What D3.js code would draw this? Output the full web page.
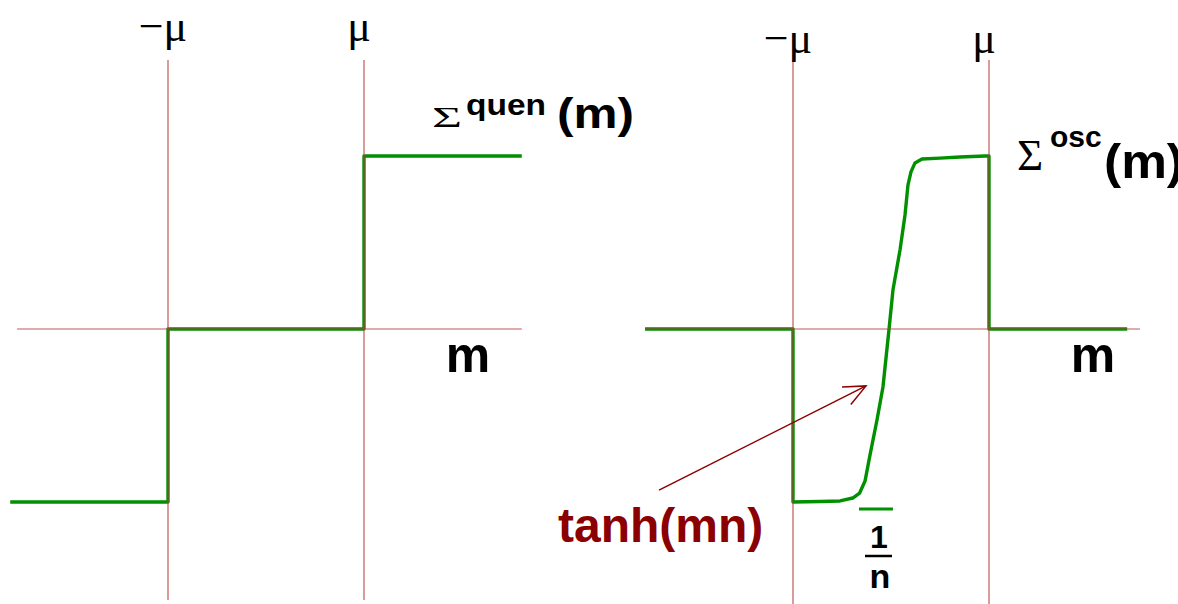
<!DOCTYPE html>
<html>
<head>
<meta charset="utf-8">
<script src="https://cdn.jsdelivr.net/npm/d3@7/dist/d3.min.js"></script>
<style>
  html, body { margin: 0; padding: 0; background: #fff; }
  svg { display: block; }
</style>
</head>
<body>
<svg id="chart" width="1178" height="604"></svg>
<script>
// Threshold positions (in units of mu) and their labels
const muTicks = [-1, 1];
const muLabels = ["\u2212\u03bc", "\u03bc"];

// Quenched self-energy: a step function of m
const quenM = [-2.61, -1, -1, 1, 1, 2.61];
const quenS = [-1, -1, 0, 0, 1, 1];

// Oscillating self-energy: zero outside [-mu, mu], a tanh(mn) ramp inside
const oscM = [-2.51, -1, -1, -0.72, -0.52, -0.39, -0.32, -0.265, -0.214, -0.143, -0.082,
              -0.02, 0.02, 0.092, 0.143, 0.173, 0.204, 0.245, 0.316, 0.5, 0.704, 0.96, 0.98, 1, 1, 2.41];
const oscS = [0, 0, -1, -0.997, -0.994, -0.977, -0.948, -0.879, -0.728, -0.526, -0.335,
              0, 0.225, 0.457, 0.659, 0.832, 0.908, 0.96, 0.983, 0.988, 0.994, 1.0, 1.0, 1.0, 0, 0];

const svg = d3.select("#chart");
const RED = "#b83c3c", GREEN = "#009000", DARKRED = "#8b0000";
const SANS = "'Liberation Sans', Arial, sans-serif";
const SERIF = "'Liberation Serif', 'Times New Roman', serif";

const y = d3.scaleLinear().domain([-1, 1]).range([502, 156]);
const xL = d3.scaleLinear().domain([-1, 1]).range([168, 364]);
const xR = d3.scaleLinear().domain([-1, 1]).range([793, 989]);

function panel(x, mData, sData, axisExt, vExt) {
  const g = svg.append("g");
  const pts = mData.map((m, i) => [x(m), y(sData[i])]);
  g.append("path")
    .attr("d", d3.line().curve(d3.curveLinear)(pts))
    .attr("fill", "none").attr("stroke", GREEN)
    .attr("stroke-width", 3.4).attr("stroke-linejoin", "round");
  // horizontal m axis
  g.append("line")
    .attr("x1", x(axisExt[0])).attr("x2", x(axisExt[1]))
    .attr("y1", y(0)).attr("y2", y(0))
    .attr("stroke", RED).attr("stroke-width", 1.2).attr("opacity", 0.85);
  // vertical lines at -mu and mu
  g.selectAll("line.mu").data(muTicks).join("line")
    .attr("class", "mu")
    .attr("x1", d => x(d)).attr("x2", d => x(d))
    .attr("y1", y(vExt[0])).attr("y2", y(vExt[1]))
    .attr("stroke", RED).attr("stroke-width", 1.2).attr("opacity", 0.85);
  return g;
}

const gL = panel(xL, quenM, quenS, [-2.54, 2.61], [1.555, -1.566]);
const gR = panel(xR, oscM, oscS, [-2.51, 2.54], [1.555, -1.6]);

// mu labels
gL.selectAll("text.mu").data(muTicks).join("text")
  .attr("x", d => xL(d) - 5).attr("y", 41)
  .attr("text-anchor", "middle")
  .attr("font-family", SERIF).attr("font-size", 44)
  .text((d, i) => muLabels[i]);
gR.selectAll("text.mu").data(muTicks).join("text")
  .attr("x", d => xR(d) - 5).attr("y", 53)
  .attr("text-anchor", "middle")
  .attr("font-family", SERIF).attr("font-size", 44)
  .text((d, i) => muLabels[i]);

// m axis labels
[[gL, xL], [gR, xR]].forEach(([g, x]) => {
  g.append("text")
    .attr("x", x(2.06)).attr("y", 372)
    .attr("text-anchor", "middle")
    .attr("font-family", SANS).attr("font-weight", "bold").attr("font-size", 50)
    .text("m");
});

// Sigma^quen (m)
gL.append("text").attr("x", 432).attr("y", 127)
  .attr("font-family", SERIF).attr("font-size", 29)
  .attr("textLength", 30).attr("lengthAdjust", "spacingAndGlyphs")
  .text("\u03a3");
gL.append("text").attr("x", 466).attr("y", 115)
  .attr("font-family", SANS).attr("font-weight", "bold").attr("font-size", 30)
  .attr("textLength", 80).attr("lengthAdjust", "spacingAndGlyphs")
  .text("quen");
gL.append("text").attr("x", 557).attr("y", 128)
  .attr("font-family", SANS).attr("font-weight", "bold").attr("font-size", 42)
  .attr("textLength", 77).attr("lengthAdjust", "spacingAndGlyphs")
  .text("(m)");

// Sigma^osc(m)
gR.append("text").attr("x", 1017).attr("y", 170)
  .attr("font-family", SERIF).attr("font-size", 45).text("\u03a3");
gR.append("text").attr("x", 1050).attr("y", 147)
  .attr("font-family", SANS).attr("font-weight", "bold").attr("font-size", 30)
  .text("osc");
gR.append("text").attr("x", 1104).attr("y", 178)
  .attr("font-family", SANS).attr("font-weight", "bold").attr("font-size", 48)
  .attr("textLength", 80).attr("lengthAdjust", "spacingAndGlyphs")
  .text("(m)");

// 1/n width marker under the ramp
gR.append("line")
  .attr("x1", xR(-0.327)).attr("x2", xR(0.02))
  .attr("y1", y(-1.04)).attr("y2", y(-1.04))
  .attr("stroke", GREEN).attr("stroke-width", 3);
gR.append("text").attr("x", 879).attr("y", 548).attr("text-anchor", "middle")
  .attr("font-family", SANS).attr("font-weight", "bold").attr("font-size", 32).text("1");
gR.append("line").attr("x1", 865).attr("x2", 892).attr("y1", 556).attr("y2", 556)
  .attr("stroke", "#000").attr("stroke-width", 2.5);
gR.append("text").attr("x", 880).attr("y", 588).attr("text-anchor", "middle")
  .attr("font-family", SANS).attr("font-weight", "bold").attr("font-size", 34).text("n");

// tanh(mn) annotation with arrow
const a0 = [xR(-2.367), y(-0.931)], a1 = [xR(-0.255), y(-0.329)];
gR.append("line")
  .attr("x1", a0[0]).attr("y1", a0[1]).attr("x2", a1[0]).attr("y2", a1[1])
  .attr("stroke", DARKRED).attr("stroke-width", 1.5);
const ang = Math.atan2(a1[1] - a0[1], a1[0] - a0[0]);
const headLen = 24, spread = 0.42;
const head = [
  [a1[0] - headLen * Math.cos(ang - spread), a1[1] - headLen * Math.sin(ang - spread)],
  a1,
  [a1[0] - headLen * Math.cos(ang + spread), a1[1] - headLen * Math.sin(ang + spread)]
];
gR.append("path").attr("d", d3.line()(head))
  .attr("fill", "none").attr("stroke", DARKRED).attr("stroke-width", 1.5);
gR.append("text").attr("x", 558).attr("y", 542)
  .attr("font-family", SANS).attr("font-weight", "bold").attr("font-size", 48)
  .attr("fill", DARKRED).text("tanh(mn)");
</script>
</body>
</html>
